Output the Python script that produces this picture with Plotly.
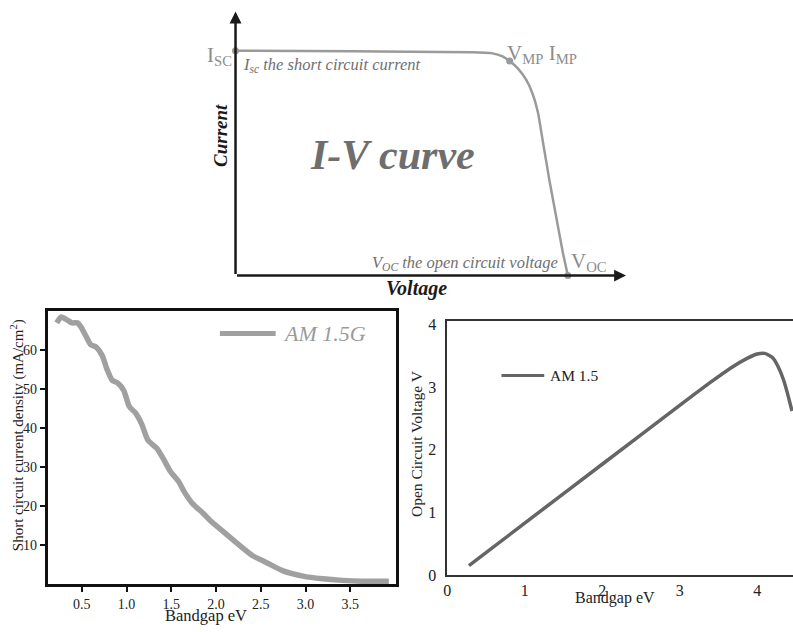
import plotly.graph_objects as go

W, H = 793, 632

# ---------------- data ----------------
# Top: schematic I-V curve (normalised: V / Voc, I / Isc)
iv_voltage = [0.0, 0.35, 0.71, 0.77, 0.805, 0.825, 0.85, 0.875, 0.895, 0.91, 0.925, 0.945, 0.965, 0.985, 1.0]
iv_current = [1.0, 0.997, 0.993, 0.989, 0.974, 0.954, 0.92, 0.87, 0.804, 0.725, 0.594, 0.42, 0.261, 0.102, 0.0]
iv_point_v = [0.0, 0.825, 1.0]     # Isc, MPP, Voc
iv_point_i = [1.0, 0.954, 0.0]

# Bottom left: short circuit current density vs bandgap (AM 1.5G)
sc_bandgap = [0.22, 0.27, 0.34, 0.39, 0.45, 0.49, 0.54, 0.60, 0.66, 0.73, 0.78, 0.84, 0.90,
              0.97, 1.03, 1.10, 1.17, 1.24, 1.34, 1.41, 1.49, 1.58, 1.65, 1.74, 1.86, 1.95,
              2.08, 2.23, 2.41, 2.56, 2.74, 2.97, 3.19, 3.41, 3.63, 3.93]
sc_density = [66.9, 68.4, 67.6, 66.9, 66.9, 65.9, 63.8, 61.3, 60.7, 58.4, 55.1, 52.2, 51.5,
              49.5, 45.5, 43.8, 40.9, 36.8, 34.7, 32.1, 28.8, 26.3, 23.4, 20.5, 18.0, 15.9,
              13.4, 10.5, 7.2, 5.5, 3.4, 2.0, 1.3, 0.9, 0.7, 0.7]
sc_xticks = [0.5, 1.0, 1.5, 2.0, 2.5, 3.0, 3.5]
sc_xtick_labels = ["0.5", "1.0", "1.5", "2.0", "2.5", "3.0", "3.5"]
sc_yticks = [10, 20, 30, 40, 50, 60]

# Bottom right: open circuit voltage vs bandgap (AM 1.5)
voc_bandgap = [0.28, 1.0, 2.0, 3.0, 3.4, 3.65, 3.87, 4.0, 4.1, 4.2, 4.27, 4.34, 4.39, 4.45]
voc_voltage = [0.15, 0.83, 1.77, 2.71, 3.08, 3.30, 3.46, 3.53, 3.54, 3.47, 3.33, 3.12, 2.91, 2.62]
voc_xticks = [0, 1, 2, 3, 4]
voc_yticks = [0, 1, 2, 3, 4]


def fx(p):
    return p / W


def fy(p):
    return 1 - p / H


SERIF = "Liberation Serif"

fig = go.Figure()

fig.add_trace(go.Scatter(
    x=iv_voltage, y=iv_current, mode="lines", xaxis="x3", yaxis="y3",
    line=dict(color="#9a9a9a", width=2.5, shape="spline", smoothing=0.5),
    showlegend=False, hoverinfo="skip"))
fig.add_trace(go.Scatter(
    x=iv_point_v, y=iv_point_i, mode="markers", xaxis="x3", yaxis="y3",
    marker=dict(color="#9a9a9a", size=7), showlegend=False, hoverinfo="skip",
    cliponaxis=False))

fig.add_trace(go.Scatter(
    x=sc_bandgap, y=sc_density, mode="lines", xaxis="x", yaxis="y",
    line=dict(color="#a0a0a0", width=5.5, shape="spline", smoothing=0.6),
    showlegend=False, hoverinfo="skip"))

fig.add_trace(go.Scatter(
    x=voc_bandgap, y=voc_voltage, mode="lines", xaxis="x2", yaxis="y2",
    line=dict(color="#656565", width=3.5, shape="spline", smoothing=0.6),
    showlegend=False, hoverinfo="skip"))

tick_font_l = dict(family=SERIF, size=14, color="#222")
tick_font_r = dict(family=SERIF, size=16, color="#222")

layout = dict(
    width=W, height=H, autosize=False,
    margin=dict(l=0, r=0, t=0, b=0),
    paper_bgcolor="white", plot_bgcolor="white",
    xaxis=dict(domain=[fx(44), fx(394)], anchor="y", range=[0.12, 4.01],
               tickvals=sc_xticks, ticktext=sc_xtick_labels,
               ticks="outside", ticklen=5, tickwidth=2, tickcolor="#111",
               showline=True, mirror=True, linewidth=3, linecolor="#111",
               showgrid=False, zeroline=False, tickfont=tick_font_l),
    yaxis=dict(domain=[fy(592), fy(312.7)], anchor="x", range=[0, 70],
               tickvals=sc_yticks,
               ticks="outside", ticklen=5, tickwidth=2, tickcolor="#111",
               showline=True, mirror=True, linewidth=3, linecolor="#111",
               showgrid=False, zeroline=False, tickfont=tick_font_l),
    xaxis2=dict(domain=[fx(445.5), 1.0], anchor="y2", range=[0, 4.463],
                tickvals=voc_xticks, ticks="",
                showline=True, mirror=True, linewidth=1.6, linecolor="#333",
                showgrid=False, zeroline=False, tickfont=tick_font_r),
    yaxis2=dict(domain=[fy(583), fy(323)], anchor="x2", range=[0, 4.06],
                tickvals=voc_yticks, ticks="outside", ticklen=6,
                tickcolor="rgba(0,0,0,0)",
                showline=True, mirror=False, linewidth=1.6, linecolor="#333",
                showgrid=False, zeroline=False, tickfont=tick_font_r),
    xaxis3=dict(domain=[0, 1], anchor="y3", range=[-0.6967, 1.6775], visible=False),
    yaxis3=dict(domain=[fy(300), 1], anchor="x3", range=[-0.1013, 1.203], visible=False),
)
fig.update_layout(**layout)

ann = []
# axis arrows of the schematic
for hx, hy in [(0.0, 1.174), (1.175, 0.0)]:
    ann.append(dict(x=hx, y=hy, ax=0, ay=0, xref="x3", yref="y3", axref="x3", ayref="y3",
                    text="", showarrow=True, arrowhead=2, arrowsize=0.95,
                    arrowwidth=2.5, arrowcolor="#1a1a1a", standoff=0, startstandoff=0))

gray_lbl = dict(family=SERIF, size=21, color="#8c8c8c")
gray_it = dict(family=SERIF, size=16.5, color="#707070")


def text(x, y, t, font, xanchor="center", yanchor="middle", angle=0):
    ann.append(dict(x=fx(x), y=fy(y), xref="paper", yref="paper", text=t, font=font,
                    showarrow=False, xanchor=xanchor, yanchor=yanchor, textangle=angle))


text(231, 52, "I<sub>SC</sub>", gray_lbl, xanchor="right")
text(238, 61, "<i>I<sub>sc</sub> the short circuit current</i>", gray_it, xanchor="left")
text(504, 50, "V<sub>MP</sub> I<sub>MP</sub>", gray_lbl, xanchor="left")
text(559, 264, "<i>V<sub>OC</sub> the open circuit voltage</i>", gray_it, xanchor="right")
text(568, 263, "V<sub>OC</sub>", gray_lbl, xanchor="left")
text(390, 153, "<b><i>I-V curve</i></b>", dict(family=SERIF, size=42, color="#6e6e6e"))
text(217, 133, "<b><i>Current</i></b>", dict(family=SERIF, size=19, color="#1a1a1a"), angle=-90)
text(415, 290, "<b><i>Voltage</i></b>", dict(family=SERIF, size=20, color="#1a1a1a"))

# bottom-left titles and legend
text(13, 440, "Short circuit current density (mA/cm<sup>2</sup>)",
     dict(family=SERIF, size=15, color="#222"), angle=-90)
text(203.5, 624, "Bandgap eV", dict(family=SERIF, size=16.5, color="#222"))
text(278, 336, "<i>AM 1.5G</i>", dict(family=SERIF, size=22, color="#9a9a9a"), xanchor="left")

# bottom-right titles and legend
text(414, 448, "Open Circuit Voltage V", dict(family=SERIF, size=15.5, color="#222"), angle=-90)
text(614, 606, "Bandgap eV", dict(family=SERIF, size=16, color="#222"))
text(547, 379, "AM 1.5", dict(family=SERIF, size=15.5, color="#222"), xanchor="left")

fig.update_layout(annotations=ann)

fig.update_layout(shapes=[
    dict(type="line", xref="paper", yref="paper", x0=fx(217), x1=fx(273), y0=fy(336), y1=fy(336),
         line=dict(color="#a0a0a0", width=5)),
    dict(type="line", xref="paper", yref="paper", x0=fx(500), x1=fx(543), y0=fy(379), y1=fy(379),
         line=dict(color="#656565", width=3)),
])

fig.write_html("out.html")
